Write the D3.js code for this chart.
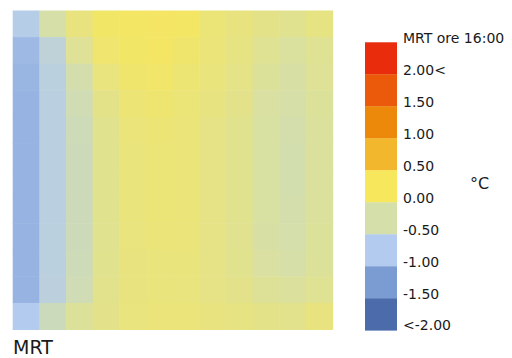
<!DOCTYPE html>
<html>
<head>
<meta charset="utf-8">
<script src="https://cdn.jsdelivr.net/npm/d3@7"></script>
<style>
  html, body { margin: 0; padding: 0; background: #fff; }
  svg { display: block; }
</style>
</head>
<body>
<svg id="chart" width="512" height="358"></svg>
<script>
// Grid of MRT differences (°C) at 16:00, 12 x 12 cells, rows from top to bottom
const columns = d3.range(12);
const rows = d3.range(12);
const mrtDelta = [
  [-0.70, -0.23,  0.03,  0.18,  0.19,  0.20,  0.19,  0.08,  0.03, -0.04, -0.08,  0.00],
  [-0.93, -0.58, -0.12,  0.13,  0.18,  0.20,  0.15,  0.07,  0.00, -0.10, -0.17, -0.10],
  [-0.98, -0.63, -0.27,  0.04,  0.15,  0.16,  0.10,  0.05, -0.03, -0.15, -0.22, -0.12],
  [-1.00, -0.64, -0.32, -0.04,  0.09,  0.12,  0.08,  0.02, -0.05, -0.19, -0.23, -0.15],
  [-1.00, -0.64, -0.36, -0.07,  0.06,  0.09,  0.07, -0.01, -0.07, -0.20, -0.27, -0.16],
  [-1.00, -0.64, -0.37, -0.07,  0.05,  0.08,  0.07, -0.01, -0.07, -0.20, -0.28, -0.16],
  [-1.00, -0.64, -0.37, -0.07,  0.05,  0.08,  0.07, -0.01, -0.07, -0.20, -0.28, -0.16],
  [-1.00, -0.64, -0.37, -0.07,  0.05,  0.08,  0.07, -0.01, -0.07, -0.20, -0.27, -0.16],
  [-1.00, -0.63, -0.37, -0.08,  0.04,  0.07,  0.06, -0.02, -0.08, -0.22, -0.26, -0.15],
  [-1.00, -0.63, -0.36, -0.07,  0.03,  0.05,  0.05, -0.02, -0.07, -0.19, -0.23, -0.14],
  [-1.00, -0.62, -0.33, -0.06,  0.03,  0.05,  0.04, -0.01, -0.05, -0.13, -0.16, -0.10],
  [-0.75, -0.38, -0.15, -0.05,  0.04,  0.06,  0.06,  0.03,  0.00, -0.04, -0.06,  0.03]
];

// Legend classes, top (warmest) to bottom (coolest)
const legendLabels = ["2.00<", "1.50", "1.00", "0.50", "0.00", "-0.50", "-1.00", "-1.50", "<-2.00"];
const legendColors = ["#e82c0c", "#eb590a", "#ec880a", "#f3b72d", "#f7e75c", "#d5dfaa", "#b2cbee", "#7b9bd3", "#4b6baa"];
const classCenters = [2.25, 1.75, 1.25, 0.75, 0.25, -0.25, -0.75, -1.25, -1.75];
const legendTitle = "MRT ore 16:00";
const unitLabel = "°C";
const mapLabel = "MRT";

const svg = d3.select("#chart");
const font = "'DejaVu Sans', Verdana, sans-serif";

const x = d3.scaleBand().domain(columns).range([12.7, 332.7]).padding(0);
const y = d3.scaleBand().domain(rows).range([10.5, 329.5]).padding(0);

// Continuous colour ramp through the legend class colours
const color = d3.scaleLinear()
  .domain(classCenters.slice().reverse())
  .range(legendColors.slice().reverse())
  .interpolate(d3.interpolateRgb)
  .clamp(true);

const cells = [];
rows.forEach(r => columns.forEach(c => cells.push({ r, c, v: mrtDelta[r][c] })));

svg.append("g")
  .selectAll("rect")
  .data(cells)
  .join("rect")
  .attr("x", d => x(d.c))
  .attr("y", d => y(d.r))
  .attr("width", x.bandwidth() + 0.5)
  .attr("height", y.bandwidth() + 0.5)
  .attr("fill", d => color(d.v));

// Legend
const ly = d3.scaleBand().domain(d3.range(legendLabels.length)).range([42.3, 330.3]);
const legend = svg.append("g");

legend.selectAll("rect")
  .data(legendColors)
  .join("rect")
  .attr("x", 365)
  .attr("y", (d, i) => ly(i))
  .attr("width", 32)
  .attr("height", ly.bandwidth() + 0.3)
  .attr("fill", d => d);

legend.append("text")
  .attr("x", 403)
  .attr("y", ly(0) + 0.5)
  .attr("font-family", font)
  .attr("font-size", 14)
  .attr("fill", "#1a1a1a")
  .text(legendTitle);

legend.selectAll("text.lab")
  .data(legendLabels)
  .join("text")
  .attr("class", "lab")
  .attr("x", 403)
  .attr("y", (d, i) => ly(i) + ly.bandwidth() + (i === legendLabels.length - 1 ? -0.5 : 0.5))
  .attr("font-family", font)
  .attr("font-size", 14)
  .attr("fill", "#1a1a1a")
  .text(d => d);

svg.append("text")
  .attr("x", 470)
  .attr("y", 189)
  .attr("font-family", font)
  .attr("font-size", 16)
  .attr("fill", "#1a1a1a")
  .text(unitLabel);

svg.append("text")
  .attr("x", 13)
  .attr("y", 354)
  .attr("font-family", font)
  .attr("font-size", 19)
  .attr("fill", "#1a1a1a")
  .text(mapLabel);
</script>
</body>
</html>
